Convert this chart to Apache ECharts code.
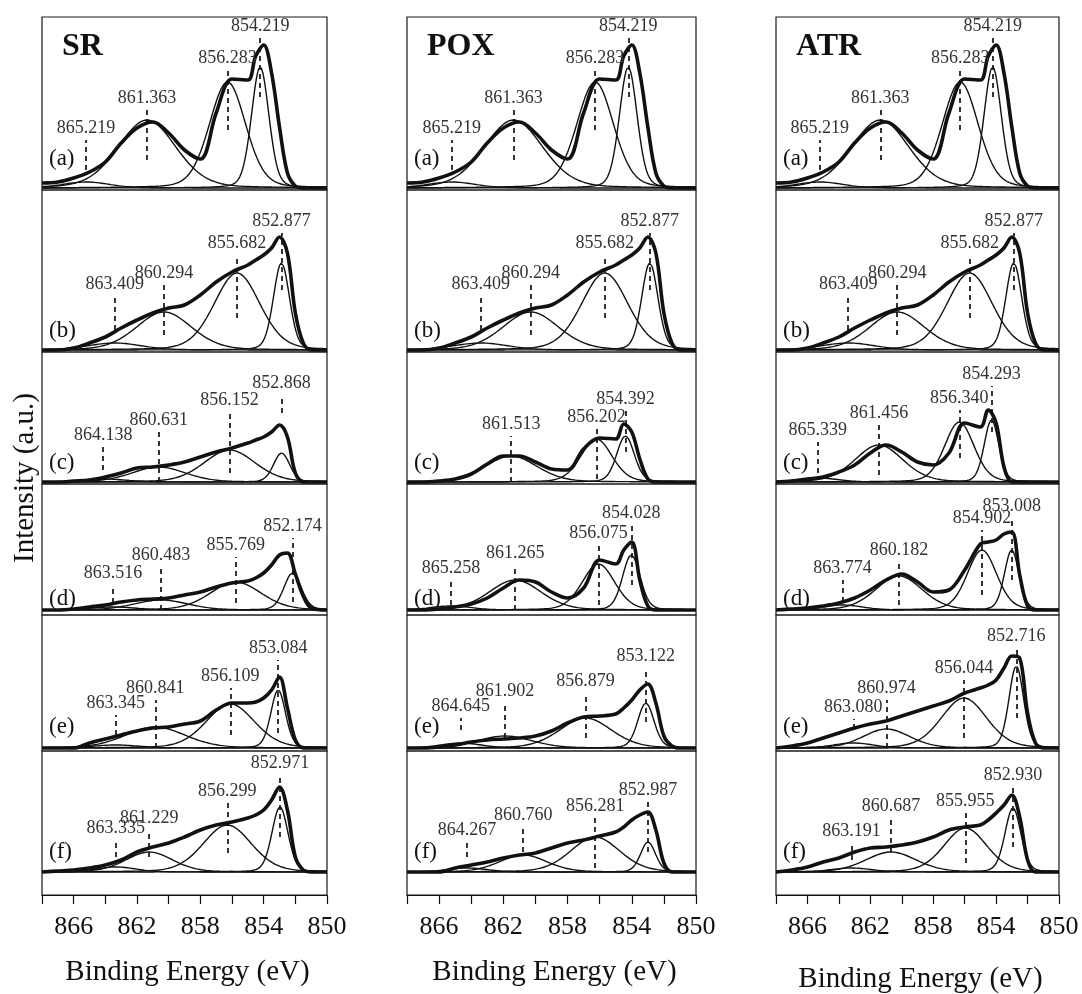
<!DOCTYPE html>
<html><head><meta charset="utf-8">
<script src="https://cdn.jsdelivr.net/npm/echarts@6/dist/echarts.min.js"></script>
<style>html,body{margin:0;padding:0;background:#fff}#c{width:1082px;height:994px}</style>
</head><body><div id="c"></div>
<script>
// ---------- DATA ----------
const PANEL_NAMES = ['SR', 'POX', 'ATR'];
const ROW_LABELS = ['(a)', '(b)', '(c)', '(d)', '(e)', '(f)'];
const X_TICK_LABELS = [866, 862, 858, 854, 850];
const X_AXIS_TITLE = 'Binding Energy (eV)';
const Y_AXIS_TITLE = 'Intensity (a.u.)';

// binding energies at which the measured envelope is read
const E_GRID = [868, 867, 866, 865, 864, 863, 862, 861, 860, 859, 858, 857, 856, 855, 854.5, 854, 853.5, 853, 852.5, 852, 851.5, 851, 850];

// measured envelope intensities (a.u.), rows (a)..(f)
const SR_ENV = [
  [5, 6, 10, 16, 26, 45, 60, 66, 55, 38, 29, 75, 109, 108, 132, 143, 115, 61, 15, 2, 0, 0, 0],
  [0, 0, 2, 7, 13, 22, 30, 37, 42, 45, 55, 68, 78, 85, 90, 95, 102, 113, 97, 37, 7, 0, 0],
  [0, 0, 1, 2, 5, 9, 14, 15, 17, 20, 25, 30, 34, 39, 42, 45, 50, 57, 45, 9, 0, 0, 0],
  [0, 0, 1, 3, 5, 8, 10, 11, 12, 15, 18, 23, 27, 29, 32, 37, 45, 55, 57, 36, 14, 2, 0],
  [0, 0, 0, 5, 9, 13, 17, 20, 21, 24, 27, 38, 45, 45, 46, 50, 58, 71, 40, 8, 0, 0, 0],
  [0, 1, 2, 4, 7, 12, 20, 25, 29, 35, 42, 47, 50, 54, 57, 62, 72, 85, 62, 15, 2, 0, 0]
];
const POX_ENV = [
  [5, 6, 10, 16, 26, 45, 60, 66, 55, 38, 29, 75, 109, 108, 132, 143, 115, 61, 15, 2, 0, 0, 0],
  [0, 0, 2, 7, 13, 22, 30, 37, 42, 45, 55, 68, 78, 85, 90, 95, 102, 113, 97, 37, 7, 0, 0],
  [0, 0, 1, 3, 8, 18, 26, 26, 20, 13, 12, 33, 44, 43, 58, 50, 23, 3, 0, 0, 0, 0, 0],
  [0, 0, 1, 3, 6, 12, 22, 30, 28, 18, 12, 22, 50, 46, 60, 68, 30, 4, 0, 0, 0, 0, 0],
  [0, 0, 1, 3, 6, 8, 9, 10, 12, 17, 25, 31, 32, 34, 40, 48, 58, 64, 45, 12, 2, 0, 0],
  [0, 0, 0, 4, 7, 10, 14, 17, 19, 24, 29, 32, 36, 40, 45, 52, 57, 60, 42, 9, 0, 0, 0]
];
const ATR_ENV = [
  [5, 6, 10, 16, 26, 45, 60, 66, 55, 38, 29, 75, 109, 108, 132, 143, 115, 61, 15, 2, 0, 0, 0],
  [0, 0, 2, 7, 13, 22, 30, 37, 42, 45, 55, 68, 78, 85, 90, 95, 102, 113, 97, 37, 7, 0, 0],
  [0, 1, 3, 5, 10, 17, 29, 37, 30, 20, 17, 29, 59, 55, 72, 59, 15, 0, 0, 0, 0, 0, 0],
  [0, 1, 2, 4, 7, 12, 20, 30, 36, 28, 18, 20, 40, 66, 68, 70, 76, 78, 35, 4, 0, 0, 0],
  [0, 2, 5, 10, 15, 20, 24, 27, 32, 37, 42, 47, 55, 60, 63, 68, 80, 92, 90, 35, 5, 0, 0],
  [0, 2, 5, 10, 14, 20, 24, 25, 27, 30, 35, 42, 45, 47, 52, 59, 67, 77, 55, 12, 0, 0, 0]
];

// fitted component peaks: position (eV), height (a.u.), FWHM (eV)
const SR_POS = [[865.219, 861.363, 856.283, 854.219], [863.409, 860.294, 855.682, 852.877], [864.138, 860.631, 856.152, 852.868], [863.516, 860.483, 855.769, 852.174], [863.345, 860.841, 856.109, 853.084], [863.335, 861.229, 856.299, 852.971]];
const SR_HEIGHT = [[6, 68, 106, 121], [7, 38, 77, 87], [3, 15, 32, 29], [3, 10, 28, 37], [3, 21, 44, 58], [5, 20, 47, 65]];
const SR_FWHM = [[3.5, 4.3, 2.7, 1.3], [4.0, 4.1, 3.4, 1.2], [3.5, 4.0, 3.8, 1.2], [3.5, 4.0, 3.8, 1.3], [3.5, 4.5, 3.6, 1.1], [3.0, 3.5, 3.6, 1.2]];

const POX_POS = [[865.219, 861.363, 856.283, 854.219], [863.409, 860.294, 855.682, 852.877], [861.513, 856.202, 854.392], [865.258, 861.265, 856.075, 854.028], [864.645, 861.902, 856.879, 853.122], [864.267, 860.760, 856.281, 852.987]];
const POX_HEIGHT = [[6, 68, 106, 121], [7, 38, 77, 87], [26, 43, 46], [4, 30, 46, 55], [5, 12, 30, 45], [4, 17, 35, 30]];
const POX_FWHM = [[3.5, 4.3, 2.7, 1.3], [4.0, 4.1, 3.4, 1.2], [3.8, 2.3, 1.3], [3.0, 3.8, 2.4, 1.3], [3.0, 4.0, 3.8, 1.2], [3.0, 3.5, 3.6, 1.1]];

const ATR_POS = [[865.219, 861.363, 856.283, 854.219], [863.409, 860.294, 855.682, 852.877], [865.339, 861.456, 856.340, 854.293], [863.774, 860.182, 854.902, 853.008], [863.080, 860.974, 856.044, 852.716], [863.191, 860.687, 855.955, 852.930]];
const ATR_HEIGHT = [[6, 68, 106, 121], [7, 38, 77, 87], [4, 37, 60, 62], [5, 34, 60, 60], [5, 19, 50, 82], [4, 20, 44, 64]];
const ATR_FWHM = [[3.5, 4.3, 2.7, 1.3], [4.0, 4.1, 3.4, 1.2], [3.0, 3.6, 2.2, 1.1], [3.0, 3.5, 2.2, 1.1], [3.0, 3.5, 3.4, 1.1], [3.0, 3.8, 3.2, 1.2]];

// dashed peak markers: [lower, upper] intensity of each dashed segment
const SR_DASH = [[[18, 48], [28, 78], [58, 118], [91, 150]], [[20, 54], [15, 65], [32, 95], [60, 117]], [[12, 35], [0, 50], [9, 70], [69, 87]], [[7, 25], [0, 43], [7, 53], [8, 72]], [[13, 33], [0, 48], [13, 60], [15, 88]], [[15, 32], [15, 42], [19, 69], [35, 97]]];
const POX_DASH = [[[18, 48], [28, 78], [58, 118], [91, 150]], [[20, 54], [15, 65], [32, 95], [60, 117]], [[0, 46], [3, 53], [30, 71]], [[5, 30], [0, 45], [5, 65], [25, 85]], [[18, 30], [10, 45], [10, 55], [26, 80]], [[15, 30], [20, 45], [4, 54], [20, 70]]];
const ATR_DASH = [[[18, 48], [28, 78], [58, 118], [91, 150]], [[20, 54], [15, 65], [32, 95], [60, 117]], [[9, 40], [7, 57], [24, 72], [50, 96]], [[8, 30], [5, 48], [15, 80], [30, 92]], [[19, 29], [0, 48], [10, 68], [30, 100]], [[12, 29], [20, 54], [9, 59], [25, 85]]];

// ---------- LAYOUT ----------
const COL_BOX = [[42, 327], [407, 696], [776, 1059]];
const ROW_BOX = [[17, 190, 188], [190, 352, 350], [352, 484, 482], [484, 615, 610], [615, 751, 748], [751, 895, 872]];
const ROW_LABEL_Y = [160, 332, 464, 600, 728, 853];
const FONT = '"Liberation Serif", "DejaVu Serif", serif';
const INK = '#111';

const COLS = [
  { env: SR_ENV, pos: SR_POS, h: SR_HEIGHT, w: SR_FWHM, dash: SR_DASH },
  { env: POX_ENV, pos: POX_POS, h: POX_HEIGHT, w: POX_FWHM, dash: POX_DASH },
  { env: ATR_ENV, pos: ATR_POS, h: ATR_HEIGHT, w: ATR_FWHM, dash: ATR_DASH }
];

function peakShape(E, c, h, w) {
  const s = w / 2.3548, d = E - c;
  const g = Math.exp(-0.5 * d * d / (s * s));
  const l = 1 / (1 + Math.pow(2 * d / w, 2));
  return h * (0.8 * g + 0.2 * l);
}
const E_SAMPLES = [];
for (let i = 0; i <= 360; i++) E_SAMPLES.push(+(868 - i * 0.05).toFixed(2));

const grids = [], xAxes = [], yAxes = [], series = [], graphics = [];

COLS.forEach((col, c) => {
  const [L, R] = COL_BOX[c];
  ROW_BOX.forEach(([T, B, Y0], r) => {
    const idx = c * 6 + r;
    const last = r === 5;
    grids.push({ left: L, width: R - L, top: T, height: B - T, show: true, borderColor: '#1a1a1a', borderWidth: 1.2, backgroundColor: 'transparent', containLabel: false });
    xAxes.push({
      type: 'value', gridIndex: idx, min: 850, max: 868, interval: 2, inverse: true,
      show: last,
      axisLine: { show: last, onZero: false, lineStyle: { color: INK, width: 1.2 } },
      axisTick: { show: last, length: 9, lineStyle: { color: INK, width: 1.2 } },
      axisLabel: { show: last, margin: 19, fontSize: 26, fontFamily: FONT, color: INK,
        formatter: v => X_TICK_LABELS.indexOf(v) >= 0 ? String(v) : '' },
      splitLine: { show: false }
    });
    yAxes.push({ type: 'value', gridIndex: idx, min: -(B - Y0), max: Y0 - T, show: false, splitLine: { show: false } });

    col.pos[r].forEach((p, k) => {
      series.push({
        type: 'line', xAxisIndex: idx, yAxisIndex: idx, showSymbol: false, silent: true,
        lineStyle: { color: INK, width: 1.4 }, z: 2,
        data: E_SAMPLES.map(E => [E, peakShape(E, p, col.h[r][k], col.w[r][k])])
      });
    });
    series.push({
      type: 'line', xAxisIndex: idx, yAxisIndex: idx, showSymbol: false, silent: true,
      smooth: 0.35, lineStyle: { color: INK, width: 3.6 }, z: 3,
      data: E_GRID.map((E, i) => [E, col.env[r][i]]),
      markLine: {
        silent: true, symbol: ['none', 'none'], animation: false,
        lineStyle: { type: [5, 4], color: INK, width: 1.7 },
        label: { show: true, position: 'end', distance: 3, fontFamily: FONT, fontSize: 18, color: '#333',
          formatter: prm => prm.name },
        data: col.pos[r].map((p, k) => [
          { name: p.toFixed(3), coord: [p, col.dash[r][k][0]] },
          { name: p.toFixed(3), coord: [p, col.dash[r][k][1]] }
        ])
      }
    });

    graphics.push({ type: 'text', left: L + 7, top: ROW_LABEL_Y[r] - 13,
      style: { text: ROW_LABELS[r], font: '23px ' + FONT, fill: INK } });
  });
  graphics.push({ type: 'text', left: L + 20, top: 31,
    style: { text: PANEL_NAMES[c], font: 'bold 32px ' + FONT, fill: INK } });
  graphics.push({ type: 'text', x: (L + R) / 2 + 3, y: c === 2 ? 979 : 972,
    style: { text: X_AXIS_TITLE, font: '29px ' + FONT, fill: INK, align: 'center', verticalAlign: 'middle' } });
});
graphics.push({ type: 'text', x: 25, y: 478, rotation: Math.PI / 2,
  style: { text: Y_AXIS_TITLE, font: '29px ' + FONT, fill: INK, align: 'center', verticalAlign: 'middle' } });

const chart = echarts.init(document.getElementById('c'), null, { renderer: 'canvas' });
chart.setOption({
  animation: false,
  backgroundColor: '#fff',
  grid: grids, xAxis: xAxes, yAxis: yAxes, series: series, graphic: graphics
});
</script></body></html>
